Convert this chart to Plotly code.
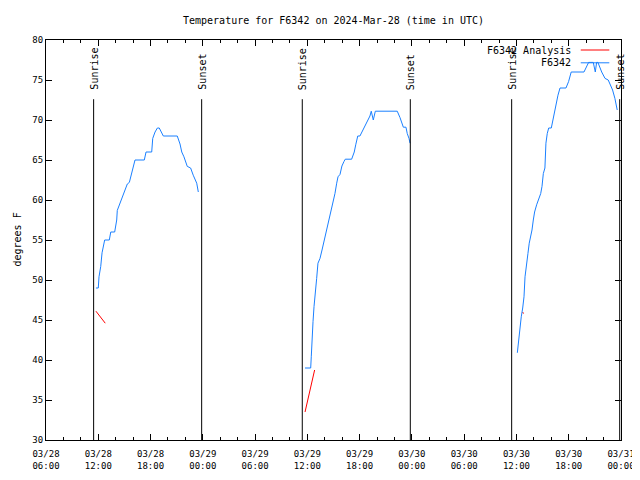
import plotly.graph_objects as go

# ---------------- data ----------------
title = "Temperature for F6342 on 2024-Mar-28 (time in UTC)"

day1_times = ["11:44", "12:00", "12:05", "12:17", "12:26", "12:35", "12:44", "13:16", "13:26",
              "13:53", "14:07", "14:11", "14:21", "14:41", "14:57", "15:11", "15:20", "15:34",
              "15:50", "16:06", "16:13", "17:17", "17:29", "18:08", "18:15", "18:31", "18:47",
              "19:00", "19:28", "21:04", "21:23", "21:35", "21:50", "22:13", "22:36", "22:54",
              "23:18", "23:29"]
day1_temps = [49, 49, 50.4, 51.7, 53.4, 54.4, 55, 55, 56,
              56, 57.5, 58.7, 59.2, 60, 60.8, 61.7, 62, 62.2,
              63.3, 64.6, 65, 65, 66, 66, 67.7, 68.5, 69,
              69, 68, 68, 67, 66, 65.4, 64.2, 64, 63.1,
              62.1, 61]

day2_times = ["11:44", "12:23", "12:27", "12:32", "12:39", "12:46", "12:55", "13:04", "13:13",
              "13:27", "13:41", "13:54", "14:08", "14:22", "14:36", "14:50", "14:59", "15:10",
              "15:22", "15:31", "15:45", "15:58", "16:12", "16:21", "17:05", "17:23", "17:33",
              "17:47", "18:02", "18:21", "18:37", "18:53", "19:11", "19:20", "19:34", "19:48",
              "22:19", "22:38", "22:52", "23:01", "23:19", "23:28", "23:40", "23:47"]
day2_temps = [39, 39, 40.4, 42.7, 44.8, 46.7, 49, 50.2, 52.1,
              52.7, 53.75, 54.8, 55.8, 56.9, 57.9, 59, 60, 60.8,
              62.1, 62.9, 63.2, 64.25, 64.8, 65.1, 65.1, 66, 66.9,
              68, 68, 68.7, 69.2, 69.8, 70.5, 71.1, 70, 71.1,
              71.1, 70.3, 69.6, 69.1, 69.1, 68.3, 67.7, 67.1]

day3_times = ["12:06", "12:15", "12:24", "12:33", "12:43", "12:52", "12:59", "13:10", "13:19",
              "13:28", "13:38", "13:47", "13:56", "14:05", "14:19", "14:33", "14:47", "14:56",
              "15:05", "15:16", "15:23", "15:32", "15:42", "16:00", "16:09", "16:18", "16:27",
              "16:37", "16:46", "17:00", "17:41", "17:59", "18:17", "19:45", "20:08", "20:17",
              "20:49", "21:03", "21:12", "21:21", "21:47", "22:10", "22:32", "22:49", "23:02",
              "23:18", "23:34"]
day3_temps = [40.9, 42.5, 43.5, 45.4, 46.5, 47.9, 50.4, 51.7, 53.3,
              54.6, 55.4, 56.25, 57.5, 58.5, 59.4, 60.2, 60.8, 61.7,
              63.3, 64, 67.1, 68.3, 69, 69, 69.9, 70.6, 71.5,
              72.3, 73.1, 74, 74, 74.8, 76, 76, 76.9, 77.2,
              77.2, 76, 77.2, 77.2, 76, 75.2, 75, 74.4, 73.75,
              72.7, 71.25]

anal1_times = ["2024-03-28 11:44", "2024-03-28 12:48"]
anal1_temps = [46.1, 44.6]
anal2_times = ["2024-03-29 11:44", "2024-03-29 12:50"]
anal2_temps = [33.5, 38.75]
anal3_times = ["2024-03-30 12:43", "2024-03-30 12:48"]
anal3_temps = [46.0, 45.8]

sunrise_times = ["2024-03-28 11:28", "2024-03-29 11:25", "2024-03-30 11:27"]
sunset_times = ["2024-03-28 23:52", "2024-03-29 23:49", "2024-03-30 23:51"]

x_range = ["2024-03-28 06:00", "2024-03-31 00:00"]
y_range = [30, 80]

# ---------------- build ----------------
FONT = "DejaVu Sans Mono"
BLUE = "#1a80ff"
RED = "#ff0000"

# the page body adds an 8px offset; size the figure so the plot area lands
# where the reference has it (x 46..621, y 40..440 in the window)
W, H = 632, 472
ML, MR, MT, MB = 38, 19, 32, 40
PW = W - ML - MR


def join(parts):
    xs, ys = [], []
    for date, ts, vs in parts:
        if xs:
            xs.append(None)
            ys.append(None)
        xs += [f"{date} {t}" for t in ts]
        ys += vs
    return xs, ys


bx, by = join([("2024-03-28", day1_times, day1_temps),
               ("2024-03-29", day2_times, day2_temps),
               ("2024-03-30", day3_times, day3_temps)])
ax, ay = [], []
for t, v in [(anal1_times, anal1_temps), (anal2_times, anal2_temps), (anal3_times, anal3_temps)]:
    if ax:
        ax.append(None)
        ay.append(None)
    ax += t
    ay += v

fig = go.Figure()
fig.add_trace(go.Scatter(x=ax, y=ay, mode="lines", line=dict(color=RED, width=1),
                         name="F6342 Analysis", connectgaps=False))
fig.add_trace(go.Scatter(x=bx, y=by, mode="lines", line=dict(color=BLUE, width=1),
                         name="F6342", connectgaps=False))

shapes = []
annotations = []
for label, times in [("Sunrise", sunrise_times), ("Sunset", sunset_times)]:
    for t in times:
        shapes.append(dict(type="line", xref="x", yref="y", x0=t, x1=t, y0=30, y1=72.6,
                           line=dict(color="black", width=1)))
        annotations.append(dict(x=t, y=73.5, xref="x", yref="y", text=label, textangle=-90,
                                showarrow=False, xanchor="center", yanchor="bottom",
                                font=dict(family=FONT, size=10, color="black")))

# gnuplot-style legend (text left, sample right)
legend_items = [("F6342 Analysis", RED, 0.975), ("F6342", BLUE, 0.943)]
for text, col, yp in legend_items:
    annotations.append(dict(x=0.9165, y=yp, xref="paper", yref="paper", text=text,
                            showarrow=False, xanchor="right", yanchor="middle",
                            font=dict(family=FONT, size=10, color="black")))
    shapes.append(dict(type="line", xref="paper", yref="paper", x0=0.93, x1=0.9797,
                       y0=yp, y1=yp, line=dict(color=col, width=1)))

annotations.append(dict(x=-(ML - 1) / PW, y=0.5, xref="paper", yref="paper", text="degrees F",
                        textangle=-90, showarrow=False, xanchor="left", yanchor="middle",
                        font=dict(family=FONT, size=10, color="black")))

fig.update_layout(
    width=W, height=H,
    margin=dict(l=ML, r=MR, t=MT, b=MB, autoexpand=False),
    paper_bgcolor="white", plot_bgcolor="white",
    showlegend=False,
    title=dict(text=title, x=(333.5 - 8) / W, xanchor="center", y=1 - (20 - 8) / H,
               yanchor="middle", font=dict(family=FONT, size=10, color="black"),
               automargin=False),
    font=dict(family=FONT, size=10, color="black"),
    shapes=shapes, annotations=annotations,
    xaxis=dict(type="date", range=x_range, showgrid=False, zeroline=False, automargin=False,
               showline=True, linecolor="black", linewidth=1, mirror="ticks",
               ticks="inside", ticklen=6, tickcolor="black",
               tick0="2024-03-28 06:00", dtick=6 * 3600 * 1000,
               tickformat="%m/%d<br>%H:%M", ticklabelstandoff=5,
               minor=dict(ticks="inside", ticklen=3, dtick=2 * 3600 * 1000,
                          tick0="2024-03-28 06:00", tickcolor="black", showgrid=False),
               tickfont=dict(family=FONT, size=9, color="black")),
    yaxis=dict(range=y_range, showgrid=False, zeroline=False, automargin=False,
               showline=True, linecolor="black", linewidth=1, mirror="ticks",
               ticks="inside", ticklen=6, tickcolor="black", dtick=5, tick0=30,
               tickfont=dict(family=FONT, size=9, color="black")),
)

fig.write_html("out.html")
